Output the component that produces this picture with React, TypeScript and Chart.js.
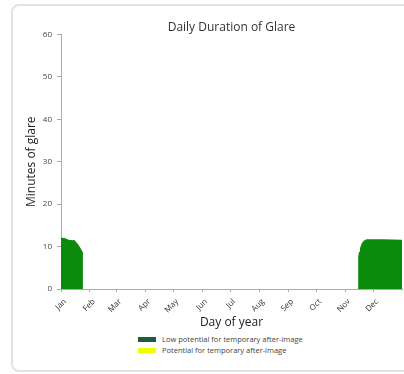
import React, { useEffect, useRef } from "react";
import { Chart, registerables } from "chart.js";

Chart.register(...registerables);

const title = "Daily Duration of Glare";
const xTitle = "Day of year";
const yTitle = "Minutes of glare";
const monthStarts = [0, 31, 59, 90, 120, 151, 181, 212, 243, 273, 304, 334];
const monthLabels = ["Jan", "Feb", "Mar", "Apr", "May", "Jun", "Jul", "Aug", "Sep", "Oct", "Nov", "Dec"];
const yTicks = [0, 10, 20, 30, 40, 50, 60];

// Low potential glare: day of year -> minutes
const lowDays = [0, 4, 8, 12, 14, 17, 19, 21, 23.5, 23.5, 24, 318, 318, 319, 320, 322, 324, 327, 345, 365];
const lowMinutes: (number | null)[] = [12.1, 12, 11.6, 11.5, 11.6, 10.9, 10.3, 9.6, 8.6, 0, null, 0, 7.6, 8.8, 9.6, 10.8, 11.4, 11.7, 11.7, 11.6];

const legendLabels = ["Low potential for temporary after-image", "Potential for temporary after-image"];
const legendColors = ["#1e5c3b", "#eeff00"];

export default function App() {
  const ref = useRef<HTMLCanvasElement>(null);

  useEffect(() => {
    if (!ref.current) return;
    const font = "'Open Sans', sans-serif";
    const chart = new Chart(ref.current, {
      type: "line",
      data: {
        datasets: [
          {
            label: legendLabels[0],
            data: lowDays.map((d, i) => ({ x: d, y: lowMinutes[i] })) as any,
            backgroundColor: "#0b8a0b",
            borderColor: "#0b8a0b",
            borderWidth: 0,
            pointRadius: 0,
            fill: "origin",
            tension: 0,
            spanGaps: false,
          },
        ],
      },
      options: {
        responsive: false,
        animation: false,
        devicePixelRatio: 1,
        layout: { padding: { left: 0, right: 2, top: 0, bottom: 0 } },
        plugins: {
          legend: { display: false },
          tooltip: { enabled: false },
          title: {
            display: true,
            text: title,
            fullSize: false,
            color: "#333",
            font: { family: font, size: 12, weight: "normal" },
            padding: { top: 14, bottom: 0 },
          },
        },
        scales: {
          x: {
            type: "linear",
            min: 0,
            max: 365,
            afterBuildTicks: (scale: any) => {
              scale.ticks = monthStarts.map((v) => ({ value: v }));
            },
            afterFit: (scale: any) => {
              scale.height = 43;
            },
            ticks: {
              autoSkip: false,
              minRotation: 45,
              maxRotation: 45,
              labelOffset: 4,
              padding: 5,
              color: "#333",
              font: { family: font, size: 8 },
              callback: (v: any) => monthLabels[monthStarts.indexOf(Number(v))] ?? "",
            },
            grid: { drawOnChartArea: false, drawTicks: true, tickLength: 3, color: "#aaa" },
            border: { display: true, color: "#aaa", width: 1 },
            title: {
              display: true,
              text: xTitle,
              color: "#222",
              font: { family: font, size: 12 },
              padding: 2,
            },
          },
          y: {
            min: 0,
            max: 60,
            afterBuildTicks: (scale: any) => {
              scale.ticks = yTicks.map((v) => ({ value: v }));
            },
            afterFit: (scale: any) => {
              scale.width = 48;
            },
            ticks: {
              color: "#444",
              padding: 5,
              font: { family: font, size: 8 },
            },
            grid: { drawOnChartArea: false, drawTicks: true, tickLength: 4, color: "#aaa" },
            border: { display: true, color: "#aaa", width: 1 },
            title: {
              display: true,
              text: yTitle,
              color: "#222",
              font: { family: font, size: 12 },
              padding: 11,
            },
          },
        },
      },
    });
    return () => chart.destroy();
  }, []);

  return (
    <div style={{ position: "fixed", left: 0, top: 0, width: 404, height: 374, overflow: "hidden", background: "#fff" }}>
      <div
        style={{
          position: "absolute",
          left: 11,
          top: 4,
          width: 440,
          height: 368,
          border: "2px solid #e2e2e2",
          borderRadius: 8,
          boxSizing: "border-box",
        }}
      />
      <canvas ref={ref} width={391} height={326} style={{ position: "absolute", left: 13, top: 6, width: 391, height: 326 }} />
      <div
        style={{
          position: "absolute",
          left: 138,
          top: 334,
          fontFamily: "'Open Sans', sans-serif",
          fontSize: 7.5,
          color: "#444",
          lineHeight: "11px",
        }}
      >
        {legendLabels.map((l, i) => (
          <div key={l} style={{ display: "flex", alignItems: "center", height: 11, whiteSpace: "nowrap" }}>
            <span style={{ display: "inline-block", width: 18, height: 5, background: legendColors[i], marginRight: 6 }} />
            <span>{l}</span>
          </div>
        ))}
      </div>
    </div>
  );
}
